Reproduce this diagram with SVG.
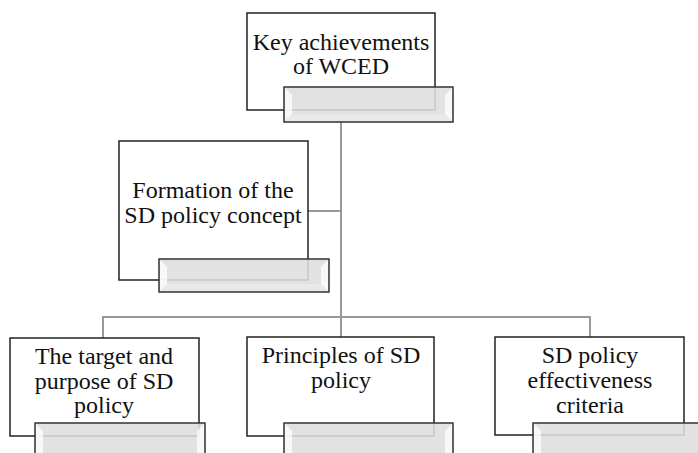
<svg xmlns="http://www.w3.org/2000/svg" width="698" height="453" viewBox="0 0 698 453">
<defs>
<style>
.box{fill:#fff;stroke:#222;stroke-width:1.5}
.bar{fill:#dedede;fill-opacity:0.88;stroke:#333;stroke-width:1.5}
.bev{fill:#fff;fill-opacity:0.75}
.bevb{fill:#eeeeee;fill-opacity:0.6}
.con{fill:none;stroke:#999;stroke-width:2}
.t{font-family:'Liberation Serif','Times New Roman',serif;font-size:24px;fill:#111;text-anchor:middle}
</style>
</defs>
<rect width="698" height="453" fill="#fff"/>
<g id="connectors">
<path class="con" d="M341 122 V318"/>
<path class="con" d="M308 211 H341"/>
<path class="con" d="M103 338 V317 H590 V338"/>
<path class="con" d="M341 317 V338"/>
</g>
<g id="n1">
<rect class="box" x="247" y="13" width="188" height="97"/>
<text class="t" x="341" y="50">Key achievements</text>
<text class="t" x="341" y="74">of WCED</text>
<rect class="bar" x="284" y="87" width="169" height="35"/>
<polygon class="bev" points="285,88 292,95 292,114 285,121"/>
<polygon class="bev" points="452,88 445,95 445,114 452,121"/>
<polygon class="bevb" points="292,114 445,114 452,121 285,121"/>
</g>
<g id="n2">
<rect class="box" x="119" y="141" width="189" height="139"/>
<text class="t" x="213" y="198">Formation of the</text>
<text class="t" x="213" y="223">SD policy concept</text>
<rect class="bar" x="159" y="259" width="170" height="33"/>
<polygon class="bev" points="160,260 167,267 167,284 160,291"/>
<polygon class="bev" points="328,260 321,267 321,284 328,291"/>
<polygon class="bevb" points="167,284 321,284 328,291 160,291"/>
</g>
<g id="n3">
<rect class="box" x="10" y="338" width="189" height="98"/>
<text class="t" x="104" y="364">The target and</text>
<text class="t" x="104" y="389">purpose of SD</text>
<text class="t" x="104" y="413">policy</text>
<rect class="bar" x="35" y="423" width="170" height="36"/>
<polygon class="bev" points="36,424 43,431 43,453 36,453"/>
<polygon class="bev" points="204,424 197,431 197,453 204,453"/>
</g>
<g id="n4">
<rect class="box" x="247" y="337" width="187" height="99"/>
<text class="t" x="341" y="363">Principles of SD</text>
<text class="t" x="341" y="388">policy</text>
<rect class="bar" x="284" y="423" width="169" height="36"/>
<polygon class="bev" points="285,424 292,431 292,453 285,453"/>
<polygon class="bev" points="452,424 445,431 445,453 452,453"/>
</g>
<g id="n5">
<rect class="box" x="495" y="337" width="189" height="98"/>
<text class="t" x="590" y="363">SD policy</text>
<text class="t" x="590" y="388">effectiveness</text>
<text class="t" x="590" y="413">criteria</text>
<rect class="bar" x="533" y="423" width="170" height="36"/>
<polygon class="bev" points="534,424 541,431 541,453 534,453"/>
</g>
</svg>
